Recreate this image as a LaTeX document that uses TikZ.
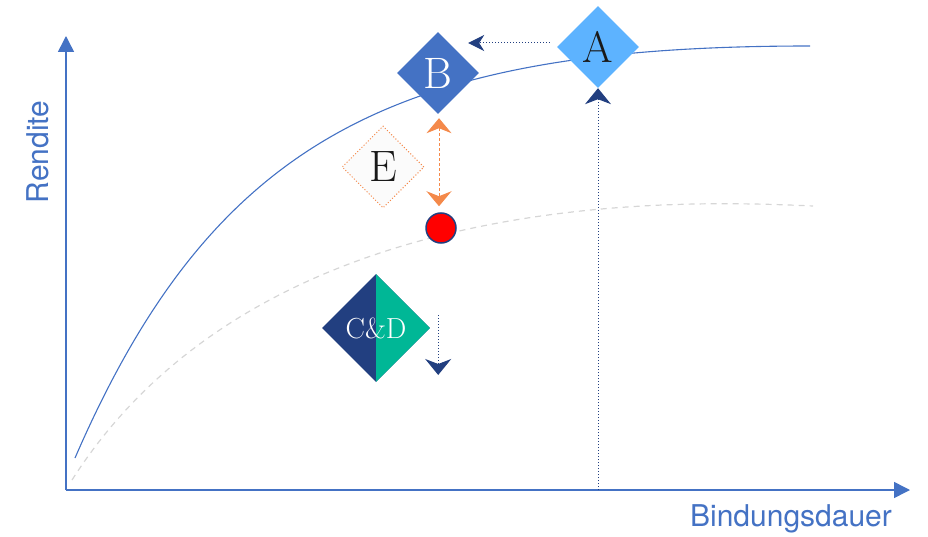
\documentclass[tikz,border=0pt]{standalone}
\usepackage{fontspec}
\newfontfamily\axisfont{TeX Gyre Heros}
\usetikzlibrary{shapes.geometric,arrows.meta}

\definecolor{axisblue}{HTML}{4472C4}
\definecolor{lightblue}{HTML}{5DB3FF}
\definecolor{navy}{HTML}{223F80}
\definecolor{teal}{HTML}{00B796}
\definecolor{peach}{HTML}{F4894A}
\definecolor{softgrey}{HTML}{D6D6D6}

\tikzset{
  rhomb/.style={diamond, aspect=1, inner sep=0pt, minimum size=#1},
  axislabel/.style={text=axisblue, font=\axisfont\fontsize{30}{30}\selectfont},
  bigletter/.style={font=\fontsize{44}{44}\selectfont},
  navytip/.style={-{Stealth[length=16pt,width=26pt,inset=5pt]}},
}

\begin{document}
\begin{tikzpicture}[x=1pt, y=-1pt]
            \useasboundingbox (0,0) rectangle (928,537);

            % Draw the axes
            \coordinate (O) at (66,490);
            \coordinate (xend) at (910,490);
            \coordinate (yend) at (66,36);
            \draw [axisblue, line width=1.5pt, -{Triangle[length=16pt,width=16pt]}] (O) -- (xend);
            \draw [axisblue, line width=1.5pt, -{Triangle[length=16pt,width=16pt]}] (O) -- (yend);
            \node [axislabel] (xlab) at (791,519) {Bindungsdauer};
            \node [axislabel, rotate=90] (ylab) at (38,152) {Rendite};

            % Draw the two curves
            \draw [softgrey, line width=1.2pt, dash pattern=on 6pt off 5pt]
                (72,480) .. controls (260,185) and (680,200) .. (813,206);
            \draw [axisblue, line width=1.1pt]
                (75,458) .. controls (215,135) and (400,46) .. (810,46);

            % Draw the markers
            \node [rhomb=82pt, fill=axisblue, text=white, bigletter] (B) at (438,73) {B};
            \node [rhomb=82pt, fill=lightblue, text=black!90, bigletter] (A) at (598,47) {A};
            \node [rhomb=82pt, fill=black!1.5, draw=peach, dotted, line width=1pt, text=black!90, bigletter] (E) at (383,167) {E};
            \node [rhomb=108pt, fill=navy, text=white, font=\fontsize{29}{29}\selectfont,
                   path picture={\fill[teal] (path picture bounding box.north) rectangle (path picture bounding box.south east);}]
                   (CD) at (376,328) {C\&D};
            \node [circle, minimum size=30pt, inner sep=0pt, fill=red, draw=navy, line width=1.5pt] (dot) at (441,228) {};

            % Draw the moves
            \coordinate (tA) at (598,490);
            \draw [navy, dotted, line width=1pt, navytip] (tA) -- (A.south);
            \draw [navy, dotted, line width=1pt, -{Stealth[length=16pt,width=16pt,inset=5pt]}]
                ([shift={(-7,-4)}]A.west) -- ([shift={(-11,-30)}]B.east);
            \draw [peach, line width=1pt, dash pattern=on 3pt off 2pt,
                   {Stealth[length=15pt,width=25pt,inset=5pt]}-{Stealth[length=15pt,width=25pt,inset=5pt]}]
                ([shift={(1,4)}]B.south) -- ([shift={(-2,-6)}]dot.north);
            \draw [navy, dotted, line width=1pt, navytip]
                ([shift={(8,-13)}]CD.east) -- ([shift={(8,47)}]CD.east);
        \end{tikzpicture}
\end{document}
